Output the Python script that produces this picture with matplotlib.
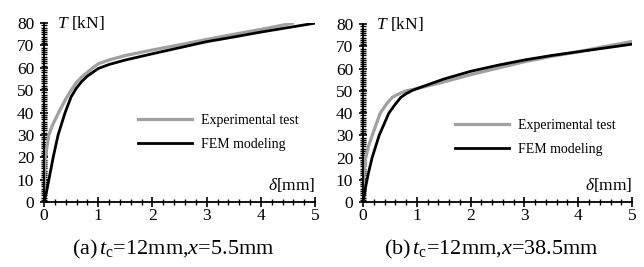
import numpy as np
import matplotlib.pyplot as plt
from matplotlib.ticker import MultipleLocator

plt.rcParams['font.family'] = 'Liberation Serif'
plt.rcParams['mathtext.fontset'] = 'custom'
plt.rcParams['mathtext.rm'] = 'Liberation Serif'
plt.rcParams['mathtext.it'] = 'Liberation Serif:italic'

# panel (a) t_c=12mm, x=5.5mm
exp_a_x = [0, 0.02, 0.05, 0.09, 0.15, 0.27, 0.4, 0.5, 0.6, 0.7, 0.8, 0.9, 1.0, 1.2, 1.5, 2.0, 2.5, 3.0, 3.5, 4.0, 4.3, 4.58]
exp_a_y = [0, 20, 24, 30, 34, 40, 46, 50, 53.5, 56, 58, 60, 61.8, 63.5, 65.5, 68, 70.3, 72.7, 75, 77.2, 78.6, 80]
fem_a_x = [0, 0.05, 0.09, 0.17, 0.26, 0.39, 0.5, 0.6, 0.7, 0.8, 0.9, 1.0, 1.2, 1.5, 2.0, 2.5, 3.0, 3.5, 4.0, 4.5, 5.0]
fem_a_y = [0, 5, 10, 20, 30, 40, 47, 51, 54, 56.3, 58, 59.7, 61.5, 63.5, 66.3, 69, 71.7, 73.8, 76, 78, 80]

# panel (b) t_c=12mm, x=38.5mm
exp_b_x = [0, 0.02, 0.05, 0.1, 0.2, 0.32, 0.45, 0.54, 0.65, 0.8, 1.0, 1.5, 2.0, 2.5, 3.0, 3.5, 4.0, 4.5, 5.0]
exp_b_y = [0, 14, 20, 25, 32, 40, 44.5, 47, 48.5, 50, 51, 54, 57.3, 60.2, 63.1, 65.5, 67.6, 70, 72.2]
fem_b_x = [0, 0.05, 0.1, 0.17, 0.3, 0.48, 0.6, 0.7, 0.8, 0.9, 1.0, 1.5, 2.0, 2.5, 3.0, 3.5, 4.0, 4.5, 5.0]
fem_b_y = [0, 7, 13, 20, 30, 40, 44, 47, 48.7, 50, 51, 55.3, 58.8, 61.5, 63.9, 65.9, 67.6, 69.3, 71]

panels = [
    ([0.0683, 0.2434, 0.421, 0.670], exp_a_x, exp_a_y, fem_a_x, fem_a_y,
     r'(a)$\,t_{\mathrm{c}}$=12mm,$x$=5.5mm', (0.347, 0.391)),
    ([0.5637, 0.2434, 0.4177, 0.666], exp_b_x, exp_b_y, fem_b_x, fem_b_y,
     r'(b)$\,t_{\mathrm{c}}$=12mm,$x$=38.5mm', (0.342, 0.365)),
]

fig = plt.figure(figsize=(6.44, 2.67), dpi=100)
for rect, ex, ey, fx, fy, cap, leg_anchor in panels:
    ax = fig.add_axes(rect)
    ax.plot(ex, ey, color='#a0a0a0', lw=2.3, label='Experimental test')
    ax.plot(fx, fy, color='black', lw=2, label='FEM modeling')
    ax.set_xlim(0, 5)
    ax.set_ylim(0, 80)
    ax.spines['top'].set_visible(False)
    ax.spines['right'].set_visible(False)
    ax.spines['left'].set_linewidth(1.3)
    ax.spines['bottom'].set_linewidth(1.3)
    ax.xaxis.set_major_locator(MultipleLocator(1))
    ax.xaxis.set_minor_locator(MultipleLocator(0.2))
    ax.yaxis.set_major_locator(MultipleLocator(10))
    ax.yaxis.set_minor_locator(MultipleLocator(1))
    ax.tick_params(which='major', direction='inout', length=7, width=1.2, labelsize=12.5, pad=1)
    ax.tick_params(which='minor', direction='inout', length=4, width=1)
    ax.tick_params(axis='y', which='major', length=6, pad=4)
    ax.text(0.24, 80, r'$T$ [kN]', fontsize=12.5, va='center', ha='left')
    ax.text(5, 7.6, r'$\delta$[mm]', fontsize=12.5, va='center', ha='right')
    ax.legend(loc='center left', bbox_to_anchor=leg_anchor, frameon=False,
              borderaxespad=0, borderpad=0,
              fontsize=10, handlelength=3.9, labelspacing=0.8, handletextpad=0.6)
    pos = ax.get_position()
    fig.text(pos.x0 + pos.width / 2 - 0.01, 0.065, cap, fontsize=16, ha='center', va='center')

fig.savefig('out.png', dpi=100)
